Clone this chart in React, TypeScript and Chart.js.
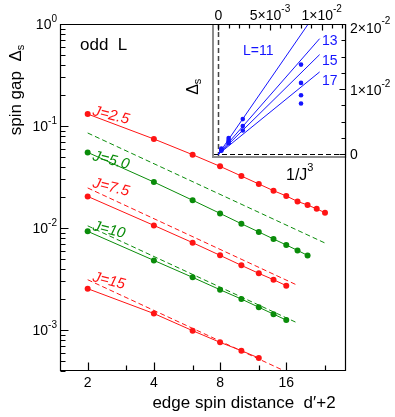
import React, { useEffect, useRef } from 'react';
import { Chart, registerables } from 'chart.js';
Chart.register(...registerables);

// ---------- main panel data: x = d'+2, y = spin gap ----------
const xJ25 = [2, 4, 6, 8, 10, 12, 14, 16, 18, 20, 22, 24];
const yJ25 = [0.131, 0.0746, 0.0523, 0.0402, 0.0323, 0.027, 0.0232, 0.0206, 0.0182, 0.0168, 0.0154, 0.0141];
const xJ50 = [2, 4, 6, 8, 10, 12, 14, 16, 18, 20];
const yJ50 = [0.0551, 0.0282, 0.0187, 0.0139, 0.011, 0.00914, 0.0078, 0.00681, 0.00603, 0.00538];
const xJ75 = [2, 4, 6, 8, 10, 12, 14, 16];
const yJ75 = [0.0204, 0.0106, 0.00718, 0.00539, 0.0043, 0.00359, 0.00311, 0.00272];
const xJ10 = [2, 4, 6, 8, 10, 12, 14, 16];
const yJ10 = [0.00927, 0.00481, 0.00328, 0.00248, 0.00201, 0.00167, 0.00143, 0.00125];
const xJ15 = [2, 4, 6, 8, 10, 12];
const yJ15 = [0.00254, 0.00145, 0.000984, 0.000756, 0.000627, 0.000531];

// dashed asymptotic lines (end points)
const xDash50 = [2, 24];
const yDash50 = [0.0854, 0.00712];
const xDash75 = [2, 18];
const yDash75 = [0.0247, 0.00274];
const xDash10 = [2, 18];
const yDash10 = [0.0105, 0.00117];
const xDash15 = [2, 18];
const yDash15 = [0.00311, 0.000346];

const jLabels = ['2.5', '5.0', '7.5', '10', '15'];

const xMajorTicks = [2, 4, 8, 16];
const xMinorTicks = [3, 6, 12, 24];
const yDecades = [1, 0.1, 0.01, 0.001];
const yDecadeExp = ['0', '-1', '-2', '-3'];

// ---------- inset data: x = 1/J^3 ----------
const insetXJ5 = 0.008;
const insetYJ5 = [0.01377, 0.01096, 0.00907, 0.0078];
const insetXJ75 = 0.00237;
const insetYJ75 = [0.0054, 0.00433, 0.00365];
const insetXJ10 = 0.001;
const insetYJ10 = [0.0025, 0.0022, 0.00195, 0.0017];
const insetXJ15 = 0.000296;
const insetYJ15 = [0.0009, 0.00075, 0.00065, 0.00055];

const fitL = ['L=11', '13', '15', '17'];
const fitEndX = [0.0087, 0.0098, 0.0098, 0.0098];
const fitEndY = [0.02, 0.01775, 0.0153, 0.01264];

const RED = 'rgb(255,20,20)';
const GREEN = 'rgb(10,140,10)';
const BLUE = 'rgb(20,20,255)';
const FONT = "'Liberation Sans', Arial, sans-serif";

const pts = (xs: number[], ys: number[]) => xs.map((x, i) => ({ x, y: ys[i] }));

function supText(ctx: CanvasRenderingContext2D, base: string, sup: string, x: number, y: number,
  align: 'left' | 'right' | 'center', baseSize: number, supSize: number, rise: number) {
  ctx.font = `${baseSize}px ${FONT}`;
  const wb = ctx.measureText(base).width;
  ctx.font = `${supSize}px ${FONT}`;
  const ws = ctx.measureText(sup).width;
  const total = wb + ws;
  const x0 = align === 'left' ? x : align === 'right' ? x - total : x - total / 2;
  ctx.textAlign = 'left';
  ctx.textBaseline = 'alphabetic';
  ctx.font = `${baseSize}px ${FONT}`;
  ctx.fillText(base, x0, y);
  ctx.font = `${supSize}px ${FONT}`;
  ctx.fillText(sup, x0 + wb, y - rise);
}

const mainDecor = {
  id: 'mainDecor',
  afterDraw(chart: any) {
    const ctx: CanvasRenderingContext2D = chart.ctx;
    const { left, top, right, bottom } = chart.chartArea;
    const xs = chart.scales.x;
    const ys = chart.scales.y;
    ctx.save();
    ctx.strokeStyle = '#000';
    ctx.lineWidth = 1.2;
    const L = Math.round(left) + 0.5, R = Math.round(right) - 0.5;
    const T = Math.round(top) + 0.5, B = Math.round(bottom) - 0.5;
    ctx.beginPath();
    ctx.moveTo(L, T); ctx.lineTo(R, T); ctx.lineTo(R, B); ctx.lineTo(L, B); ctx.closePath();
    ctx.stroke();
    // bottom ticks
    ctx.beginPath();
    for (const v of xMajorTicks) { const p = Math.round(xs.getPixelForValue(v)) + 0.5; ctx.moveTo(p, B); ctx.lineTo(p, B - 8); }
    for (const v of xMinorTicks) { const p = Math.round(xs.getPixelForValue(v)) + 0.5; ctx.moveTo(p, B); ctx.lineTo(p, B - 5); }
    // left ticks
    for (const v of yDecades) { const p = Math.round(ys.getPixelForValue(v)) + 0.5; ctx.moveTo(L, p); ctx.lineTo(L + 8, p); }
    for (const d of [0.0001, 0.001, 0.01, 0.1]) {
      for (let m = 2; m <= 9; m++) {
        const v = m * d;
        if (v < ys.min || v > ys.max) continue;
        const p = Math.round(ys.getPixelForValue(v)) + 0.5;
        ctx.moveTo(L, p); ctx.lineTo(L + 5, p);
      }
    }
    ctx.stroke();
    ctx.fillStyle = '#000';
    // x tick labels
    ctx.font = `14px ${FONT}`;
    ctx.textAlign = 'center';
    ctx.textBaseline = 'alphabetic';
    for (const v of xMajorTicks) ctx.fillText(String(v), xs.getPixelForValue(v), bottom + 16);
    // y tick labels
    yDecades.forEach((v, i) => {
      const p = ys.getPixelForValue(v);
      supText(ctx, '10', yDecadeExp[i], left - 3, p + 5, 'right', 14, 10, 7);
    });
    // x title
    ctx.font = `17px ${FONT}`;
    ctx.textAlign = 'center';
    ctx.textBaseline = 'middle';
    ctx.fillText('edge spin distance  d\u2032+2', 244, 403);
    // y title (rotated)
    ctx.save();
    ctx.translate(16, 90);
    ctx.rotate(-Math.PI / 2);
    ctx.font = `17px ${FONT}`;
    const t1 = 'spin gap  \u0394';
    const w1 = ctx.measureText(t1).width;
    ctx.font = `11px ${FONT}`;
    const w2 = ctx.measureText('s').width;
    const x0 = -(w1 + w2) / 2;
    ctx.textAlign = 'left';
    ctx.textBaseline = 'alphabetic';
    ctx.font = `17px ${FONT}`;
    ctx.fillText(t1, x0, 5);
    ctx.font = `11px ${FONT}`;
    ctx.fillText('s', x0 + w1, 8);
    ctx.restore();
    // odd L
    ctx.font = `17px ${FONT}`;
    ctx.textAlign = 'left';
    ctx.textBaseline = 'middle';
    ctx.fillText('odd  L', 80, 45);
    // J labels
    const anchors = [[92, 115, RED], [92, 160, GREEN], [92, 187, RED], [92, 230, GREEN], [92, 281, RED]];
    jLabels.forEach((lab, i) => {
      const [ax, ay, col] = anchors[i] as [number, number, string];
      ctx.save();
      ctx.translate(ax, ay);
      ctx.rotate(14 * Math.PI / 180);
      ctx.fillStyle = col;
      ctx.font = `italic 15px ${FONT}`;
      ctx.textAlign = 'left';
      ctx.textBaseline = 'alphabetic';
      ctx.fillText('J=' + lab, 0, 0);
      ctx.restore();
    });
    ctx.restore();
  },
};

const insetDecor = {
  id: 'insetDecor',
  beforeDraw(chart: any) {
    const ctx: CanvasRenderingContext2D = chart.ctx;
    const { left, top, right, bottom } = chart.chartArea;
    ctx.save();
    ctx.fillStyle = '#fff';
    ctx.fillRect(left - 2, top, right - left + 2, bottom - top + 2);
    ctx.restore();
  },
  beforeDatasetsDraw(chart: any) {
    const ctx: CanvasRenderingContext2D = chart.ctx;
    const { left, top, right, bottom } = chart.chartArea;
    const xs = chart.scales.x;
    const ys = chart.scales.y;
    ctx.save();
    ctx.setLineDash([5, 3]);
    ctx.lineWidth = 1.5;
    ctx.strokeStyle = '#444';
    const x0 = Math.round(xs.getPixelForValue(0)) + 0.5;
    ctx.beginPath(); ctx.moveTo(x0, top); ctx.lineTo(x0, bottom); ctx.stroke();
    ctx.strokeStyle = '#000';
    ctx.lineWidth = 1.2;
    const y0 = Math.round(ys.getPixelForValue(0)) + 0.5;
    ctx.beginPath(); ctx.moveTo(left, y0); ctx.lineTo(right, y0); ctx.stroke();
    ctx.restore();
  },
  afterDraw(chart: any) {
    const ctx: CanvasRenderingContext2D = chart.ctx;
    const { left, top, right, bottom } = chart.chartArea;
    const xs = chart.scales.x;
    const ys = chart.scales.y;
    ctx.save();
    // gray frame left & bottom
    ctx.strokeStyle = '#8c8c8c';
    ctx.lineWidth = 2;
    ctx.beginPath();
    ctx.moveTo(left - 1, top); ctx.lineTo(left - 1, bottom + 1); ctx.lineTo(right, bottom + 1);
    ctx.stroke();
    // black top & right
    const R = Math.round(right) - 0.5, T = Math.round(top) + 0.5;
    ctx.strokeStyle = '#000';
    ctx.lineWidth = 1.2;
    ctx.beginPath();
    ctx.moveTo(left - 2, T); ctx.lineTo(R, T); ctx.lineTo(R, bottom + 2);
    // top ticks
    for (let k = 0; k <= 12; k++) {
      const v = k * 0.001;
      if (v > xs.max) continue;
      const p = Math.round(xs.getPixelForValue(v)) + 0.5;
      const len = k % 5 === 0 ? 6 : 4;
      ctx.moveTo(p, T); ctx.lineTo(p, T + len);
    }
    // right ticks
    for (let k = 0; k <= 8; k++) {
      const v = k * 0.0025;
      const p = Math.round(ys.getPixelForValue(v)) + 0.5;
      const len = k % 4 === 0 ? 6 : 4;
      ctx.moveTo(R, p); ctx.lineTo(R - len, p);
    }
    ctx.stroke();
    ctx.fillStyle = '#000';
    // top labels
    ctx.font = `14px ${FONT}`;
    ctx.textAlign = 'center';
    ctx.textBaseline = 'alphabetic';
    ctx.fillText('0', xs.getPixelForValue(0), 20);
    supText(ctx, '5\u00d710', '-3', xs.getPixelForValue(0.005), 20, 'center', 14, 10, 8);
    supText(ctx, '1\u00d710', '-2', xs.getPixelForValue(0.01), 20, 'center', 14, 10, 8);
    // right labels
    const rx = right + 4;
    ctx.font = `14px ${FONT}`;
    ctx.textAlign = 'left';
    ctx.fillText('0', rx, ys.getPixelForValue(0) + 5);
    supText(ctx, '1\u00d710', '-2', rx, ys.getPixelForValue(0.01) + 6, 'left', 14, 10, 8);
    supText(ctx, '2\u00d710', '-2', rx, Math.max(ys.getPixelForValue(0.02) + 6, 33), 'left', 14, 10, 9);
    // x title
    supText(ctx, '1/J', '3', 286, 180, 'left', 16, 11, 9);
    // y title rotated
    ctx.save();
    ctx.translate(193, 87);
    ctx.rotate(-Math.PI / 2);
    ctx.font = `16px ${FONT}`;
    const wd = ctx.measureText('\u0394').width;
    ctx.textAlign = 'left';
    ctx.fillText('\u0394', -(wd + 5) / 2, 5);
    ctx.font = `11px ${FONT}`;
    ctx.fillText('s', -(wd + 5) / 2 + wd, 8);
    ctx.restore();
    // L labels
    ctx.fillStyle = BLUE;
    ctx.font = `14px ${FONT}`;
    ctx.textAlign = 'left';
    ctx.textBaseline = 'middle';
    const lpos = [[243, 51], [322, 41], [322, 61], [322, 81]];
    fitL.forEach((t, i) => ctx.fillText(t, lpos[i][0], lpos[i][1]));
    ctx.restore();
  },
};

export default function App() {
  const mainRef = useRef<HTMLCanvasElement>(null);
  const insetRef = useRef<HTMLCanvasElement>(null);

  useEffect(() => {
    const solid = (xs: number[], ys: number[], color: string) => ({
      data: pts(xs, ys), borderColor: color, backgroundColor: color, borderWidth: 1,
      pointRadius: 3, pointBorderWidth: 0, pointBackgroundColor: color, tension: 0, fill: false,
    });
    const dashed = (xs: number[], ys: number[], color: string) => ({
      data: pts(xs, ys), borderColor: color, borderWidth: 1, borderDash: [5, 3],
      pointRadius: 0, tension: 0, fill: false,
    });
    const main = new Chart(mainRef.current!, {
      type: 'line',
      data: {
        datasets: [
          solid(xJ25, yJ25, RED) as any,
          solid(xJ50, yJ50, GREEN),
          dashed(xDash50, yDash50, GREEN),
          solid(xJ75, yJ75, RED),
          dashed(xDash75, yDash75, RED),
          solid(xJ10, yJ10, GREEN),
          dashed(xDash10, yDash10, GREEN),
          solid(xJ15, yJ15, RED),
          dashed(xDash15, yDash15, RED),
        ],
      },
      options: {
        animation: false, responsive: false, devicePixelRatio: 1, events: [],
        layout: { padding: { left: 60, top: 24, right: 49, bottom: 46 } },
        plugins: { legend: { display: false }, tooltip: { enabled: false } },
        scales: {
          x: { type: 'logarithmic', min: 1.497, max: 29.9, display: false },
          y: { type: 'logarithmic', min: 3.96e-4, max: 1, display: false },
        },
      },
      plugins: [mainDecor],
    });

    const fitSets = fitEndX.map((ex, i) => ({
      data: [{ x: 0, y: 0 }, { x: ex, y: fitEndY[i] }], borderColor: BLUE, borderWidth: 1,
      pointRadius: 0, tension: 0, fill: false,
    }));
    const dotSet = (x: number, ys: number[]) => ({
      data: ys.map((y) => ({ x, y })), showLine: false, pointRadius: 2.3, pointBorderWidth: 0,
      pointBackgroundColor: BLUE, borderColor: BLUE, backgroundColor: BLUE,
    });
    const inset = new Chart(insetRef.current!, {
      type: 'line',
      data: {
        datasets: [
          ...fitSets,
          dotSet(insetXJ5, insetYJ5),
          dotSet(insetXJ75, insetYJ75),
          dotSet(insetXJ10, insetYJ10),
          dotSet(insetXJ15, insetYJ15),
        ] as any,
      },
      options: {
        animation: false, responsive: false, devicePixelRatio: 1, events: [],
        layout: { padding: { left: 214, top: 24, right: 49, bottom: 261 } },
        plugins: { legend: { display: false }, tooltip: { enabled: false } },
        scales: {
          x: { type: 'linear', min: -0.000416, max: 0.01235, display: false },
          y: { type: 'linear', min: -0.00026, max: 0.02, display: false },
        },
      },
      plugins: [insetDecor],
    });
    return () => { main.destroy(); inset.destroy(); };
  }, []);

  const abs: React.CSSProperties = { position: 'absolute', left: 0, top: 0, width: 395, height: 417 };
  return (
    <div style={{ ...abs, background: '#fff' }}>
      <canvas ref={mainRef} width={395} height={417} style={abs} />
      <canvas ref={insetRef} width={395} height={417} style={abs} />
    </div>
  );
}
